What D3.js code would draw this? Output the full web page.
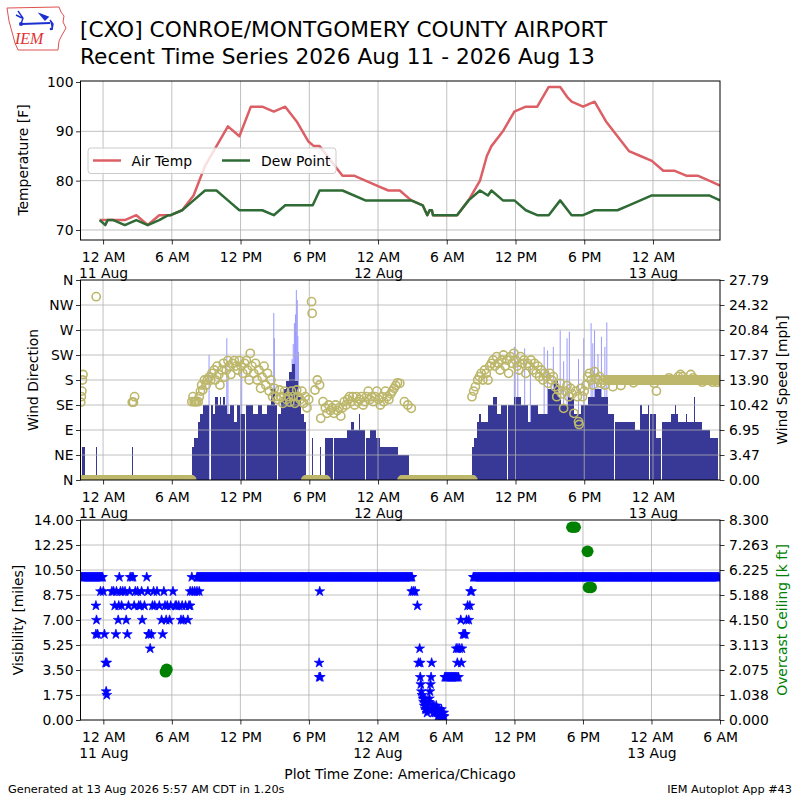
<!DOCTYPE html>
<html>
<head>
<meta charset="utf-8">
<title>CXO Recent Time Series</title>
<style>
  body { margin: 0; background: #fff; }
  svg { font-family: "DejaVu Sans", sans-serif; }
</style>
</head>
<body>
<svg id="svg" width="800" height="800"></svg>
<script src="https://cdn.jsdelivr.net/npm/d3@7/dist/d3.min.js"></script>
<script>
  // all times are hours since 11 Aug 2026 00:00 CDT
  const xTickHours = [0, 6, 12, 18, 24, 30, 36, 42, 48, 54];
  const xTickLabels = ["12 AM\n11 Aug", "6 AM", "12 PM", "6 PM", "12 AM\n12 Aug", "6 AM", "12 PM", "6 PM", "12 AM\n13 Aug", "6 AM"];

  const tempTicks = [70, 80, 90, 100];
  const dirTicks = [0, 45, 90, 135, 180, 225, 270, 315, 360];
  const dirLabels = ["N", "NE", "E", "SE", "S", "SW", "W", "NW", "N"];
  const speedTicks = [0, 3.47, 6.95, 10.42, 13.90, 17.37, 20.84, 24.32, 27.79];
  const visTicks = [0, 1.75, 3.5, 5.25, 7, 8.75, 10.5, 12.25, 14];
  const ceilTicks = [0, 1.038, 2.075, 3.113, 4.150, 5.188, 6.225, 7.263, 8.300];

  // [hour, F]
  const tmpf = [[-0.3,72],[0.4,72],[1.9,72],[2.9,73],[3.9,71],[4.9,73],[5.9,73],[6.9,74],[7.9,77],[8.9,83],
    [9.9,87],[10.9,91],[11.9,89],[12.9,95],[13.9,95],[14.9,94],[15.9,95],[16.9,92],[17.9,88],[18.4,87],
    [18.9,87],[19.9,84],[20.9,81],[21.9,81],[22.9,80],[23.9,79],[24.9,78],[25.9,78],[26.9,76],[27.9,75],
    [28.3,73],[28.5,74],[28.7,74],[28.8,73],[29.9,73],[30.9,73],[31.9,76],[32.9,80],[33.5,85],[33.9,87],
    [34.9,90],[35.9,94],[36.9,95],[37.9,95],[38.9,99],[39.9,99],[40.5,97],[40.9,96],[41.9,95],[42.9,96],
    [43.9,92],[44.9,89],[45.9,86],[46.9,85],[47.9,84],[48.9,82],[49.9,82],[50.9,81],[51.9,81],[52.9,80],[53.85,79]];
  const dwpf = [[-0.3,72],[0.2,71],[0.4,72],[0.9,72],[1.9,71],[2.9,72],[3.9,71],[4.9,72],[5.7,73],[5.9,73],
    [6.9,74],[7.9,76],[8.9,78],[9.9,78],[10.9,76],[11.9,74],[12.9,74],[13.9,74],[14.9,73],[15.9,75],
    [16.9,75],[17.9,75],[18.3,75],[18.9,78],[19.9,78],[20.9,78],[22.9,76],[23.9,76],[24.9,76],[25.9,76],
    [26.9,76],[27.9,75],[28.3,73],[28.5,74],[28.7,74],[28.8,73],[29.9,73],[30.9,73],[31.9,76],[32.9,78],
    [33.6,77],[33.9,78],[34.9,76],[35.9,76],[36.9,74],[37.9,73],[38.9,73],[39.9,76],[40.9,73],[41.9,73],
    [42.9,74],[43.9,74],[44.9,74],[45.9,75],[46.9,76],[47.9,77],[48.9,77],[49.9,77],[50.9,77],[51.9,77],
    [52.9,77],[53.85,76]];

  // sustained wind [start hour, end hour, mph]
  const sknt = [[-2.0,-1.9,4.6],[-1.8,-1.62,4.6],[-0.62,-0.54,4.6],[2.53,2.61,4.6],
    [7.79,7.94,4.6],[7.94,8.32,5.8],[8.32,8.46,8.1],[8.46,8.7,9.2],[8.7,9.28,10.4],[9.3,9.36,8.1],
    [9.38,9.63,10.4],[9.63,9.75,9.2],[9.75,10.0,11.5],[10.02,10.2,10.4],[10.2,10.3,11.5],[10.3,10.5,10.4],
    [10.5,10.6,11.5],[10.62,10.8,10.4],[10.8,11.1,9.2],[11.12,11.4,10.4],[11.4,11.7,8.1],[11.72,11.96,10.4],
    [11.96,12.38,9.2],[12.46,13.1,10.4],[13.1,13.5,9.2],[13.52,13.9,10.4],[13.9,14.3,9.2],[14.32,14.7,10.4],
    [14.7,15.0,12.7],[15.0,15.2,10.4],[15.3,15.5,9.2],[15.5,15.7,11.5],[15.72,16.0,12.7],[16.0,16.25,13.8],
    [16.25,16.45,15.0],[16.45,16.75,16.1],[16.78,17.0,13.8],[17.0,17.3,11.5],[17.3,17.5,9.2],[17.52,17.75,8.1],
    [18.25,18.3,5.8],[18.95,19.0,4.6],
    [19.4,20.1,5.8],[20.15,20.75,5.8],[20.8,21.3,5.8],[21.3,21.6,6.9],[21.62,21.9,8.1],[21.9,22.3,6.9],
    [22.3,22.45,9.2],[22.45,22.9,6.9],[22.92,23.3,5.8],[23.3,23.8,6.9],[23.82,24.2,5.8],[24.2,25.7,4.6],
    [25.7,25.78,6.9],[25.78,26.7,3.5],[27.1,27.15,3.5],
    [32.24,32.4,4.6],[32.4,32.6,5.8],[32.6,32.8,8.1],[32.8,33.0,9.2],[33.0,33.56,8.1],[33.56,34.0,10.4],
    [34.0,34.35,11.5],[34.37,34.75,9.2],[34.75,35.3,10.4],[35.32,35.9,10.4],[35.9,36.5,11.5],[36.5,37.05,10.4],
    [37.05,37.35,8.1],[37.37,37.95,10.4],[37.95,38.8,9.2],[38.8,39.4,12.7],[39.4,39.7,13.8],[39.72,40.0,11.5],
    [40.0,40.56,10.4],[40.58,41.14,11.5],[41.14,41.73,9.2],[41.75,42.3,10.4],[42.3,42.9,11.5],[42.92,43.5,12.7],
    [43.5,44.06,11.5],[44.06,44.64,9.2],[44.66,45.0,8.1],[45.0,45.06,9.2],[45.06,45.9,8.1],[45.95,46.4,8.1],
    [46.4,46.85,6.9],[46.9,47.0,10.4],[47.05,47.6,9.2],[47.6,47.66,10.4],[47.7,48.3,9.2],
    [48.3,48.73,5.8],[48.75,49.6,8.1],[49.6,49.9,9.2],[49.9,49.96,10.4],[50.0,50.2,9.2],[50.22,50.9,8.1],
    [50.9,50.96,9.2],[51.0,51.6,8.1],[51.6,51.7,11.5],[51.7,52.3,8.1],
    [52.3,52.95,6.9],[52.95,53.7,5.8],[53.85,54.0,6.9]];

  // peak gusts [hour, mph]
  const gust = [[9.25,17.4],[10.8,19.7],[10.9,13.9],[12.1,15.2],[14.9,23.2],[14.95,19.7],[16.5,16.8],[16.6,18.9],
    [16.7,21.8],[16.8,23.0],[16.87,26.4],[16.95,25.0],[17.0,20.0],[17.05,17.8],[35.9,18.5],[36.2,18.0],
    [36.8,18.3],[37.3,16.2],[38.5,18.5],[38.8,18.0],[39.3,18.5],[39.9,20.8],[40.2,16.5],[40.5,19.7],
    [40.7,20.6],[41.5,16.8],[41.96,19.7],[42.6,21.8],[42.75,19.0],[42.9,20.8],[43.2,17.5],[43.5,19.9],
    [43.8,18.5],[43.97,21.9]];

  // wind direction [hour, degrees]
  const drct = [[-1.95,140],[-1.9,150],[-1.85,160],[-1.8,180],[-1.75,190],[-0.6,330],[2.55,140],[2.65,140],[2.75,150],
    [7.75,141],[7.85,150],[7.95,141],[8.05,141],[8.15,141],[8.3,141],[8.4,150],
    [8.5,160],[8.6,171],[8.7,162],[8.85,180],[9.0,171],[9.1,180],[9.25,185],[9.4,180],[9.5,192],
    [9.7,198],[9.8,180],[9.95,205],[10.1,190],[10.2,171],[10.35,198],[10.5,210],[10.6,185],[10.75,198],
    [10.9,215],[11.0,205],[11.15,190],[11.3,210],[11.45,215],[11.6,205],[11.75,198],[11.9,215],[12.05,205],
    [12.2,192],[12.35,210],[12.5,215],[12.6,198],[12.75,180],[12.85,228],[13.0,205],[13.15,192],[13.3,210],
    [13.45,180],[13.6,198],[13.75,165],[13.9,185],[14.05,205],[14.2,171],[14.35,192],[14.5,160],[14.65,180],
    [14.8,150],[14.95,165],[15.1,150],[15.25,145],[15.4,162],[15.55,150],[15.7,138],[15.85,160],[16.0,145],
    [16.15,150],[16.3,140],[16.45,160],[16.6,150],[16.75,138],[16.9,162],[17.05,150],[17.2,145],[17.35,160],
    [17.5,138],[17.65,150],[17.8,130],[17.95,145],[18.2,321],[18.25,300],[18.5,162],[18.7,180],[18.9,171],
    [19.0,111],[19.2,141],[19.4,130],[19.55,120],[19.7,135],[19.85,125],[20.0,130],[20.15,120],[20.3,135],
    [20.45,125],[20.6,130],[20.75,115],[20.9,130],[21.05,141],[21.2,135],[21.35,145],[21.5,150],[21.65,141],
    [21.8,150],[21.95,135],[22.1,150],[22.25,141],[22.4,145],[22.55,150],[22.7,135],[22.85,141],[23.0,150],
    [23.15,160],[23.3,145],[23.45,150],[23.6,141],[23.75,150],[23.9,160],[24.05,145],[24.2,135],[24.35,150],
    [24.5,141],[24.65,160],[24.8,150],[24.95,145],[25.1,155],[25.25,160],[25.4,165],[25.55,170],[25.7,175],
    [25.9,174],[26.3,141],[26.6,135],[26.9,129],
    [32.2,150],[32.35,160],[32.5,168],[32.7,180],[32.85,186],[33.0,192],[33.15,180],[33.3,198],[33.45,192],
    [33.6,180],[33.75,205],[33.9,210],[34.05,216],[34.2,205],[34.35,222],[34.5,210],[34.65,198],[34.8,216],
    [34.95,225],[35.1,205],[35.25,216],[35.4,192],[35.55,222],[35.7,210],[35.85,228],[36.0,216],[36.15,205],
    [36.3,198],[36.45,222],[36.6,210],[36.75,216],[36.9,192],[37.05,210],[37.2,205],[37.35,216],[37.5,198],
    [37.65,210],[37.8,192],[37.95,205],[38.1,186],[38.25,198],[38.4,180],[38.55,192],[38.7,186],[38.85,174],
    [39.0,192],[39.15,180],[39.3,186],[39.45,168],[39.6,150],[39.75,162],[39.9,174],[40.05,155],[40.2,129],
    [40.35,160],[40.5,170],[40.65,150],[40.8,165],[40.95,155],[41.1,120],[41.25,160],[41.4,150],[41.5,105],
    [41.55,100],[41.7,165],[41.85,150],[42.0,160],[42.15,171],[42.3,186],[42.45,192],[42.6,180],[42.75,171],
    [42.9,195],[43.05,183],[43.2,180],[43.35,186],[43.5,174],[43.65,180],[43.8,171],
    [44.5,168],[45.2,170],[46.3,175],[48.1,174],[48.3,160],[49.4,184],[50.2,186],[50.4,190],[50.6,186],
    [51.3,190],[51.5,184],[52.3,176],[53.2,176],[53.6,176]];

  // steady direction stretches [start hour, end hour, degrees]; 0 deg = calm
  const dirRuns = [[-1.85, 7.75, 0], [17.7, 19.5, 0], [26.1, 32.3, 0], [44.0, 53.9, 180]];

  // visibility [hour, miles]; steady stretches as [start, end, miles]
  const visRuns = [[-1.9, 0.0, 10], [8.2, 27.1, 10], [29.9, 31.0, 3], [32.4, 53.98, 10]];
  const vsby = [[-0.65,8],[-0.6,7],[-0.65,6],[-0.5,6],[-0.25,9],[0.0,9],[0.1,6],[0.2,4],[0.3,4],[0.25,2],[0.3,1.75],
    [0.75,9],[0.9,9],[1.0,8],[1.1,6],[1.15,9],[1.3,7],[1.35,8],[1.4,10],[1.5,9],[1.6,8],[1.7,9],[1.9,9],[2.0,7],
    [2.1,6],[2.2,8],[2.3,9],[2.35,10],[2.5,10],[2.6,10],[2.7,8],[2.8,9],[3.0,9],[3.1,8],[3.25,8],[3.35,9],[3.4,7],
    [3.6,8],[3.8,10],[3.9,9],[3.95,6],[4.0,6],[4.1,5],[4.2,6],[4.3,8],[4.4,9],[4.5,8],[4.7,9],[4.9,8],[5.1,7],
    [5.2,6],[5.3,9],[5.4,8],[5.5,7],[5.6,8],[5.8,7],[5.9,8],[6.1,9],[6.3,8],[6.4,8],[6.6,8],[6.8,7],[6.9,8],
    [7.0,7],[7.2,8],[7.4,7],[7.5,8],[7.6,8],[7.6,9],[7.75,10],[7.8,9],[8.0,9],[8.2,9],[8.4,9],
    [18.95,9],[18.9,4],[18.9,3],[19.0,3],
    [27.0,9],[27.15,9],[27.3,9],[27.5,8],[27.7,5],[27.6,4],[27.75,4],[27.75,3],[27.8,2.5],[27.85,2],[27.9,1.75],
    [28.0,1.5],[28.05,1.25],[28.1,1],[28.15,1.5],[28.2,0.75],[28.25,1],[28.3,0.75],[28.35,0.5],[28.4,1],
    [28.45,0.75],[28.5,1.25],[28.55,1.5],[28.6,2],[28.65,2.5],[28.7,3],[28.75,4],[28.8,1],[28.85,0.75],
    [28.9,0.5],[28.95,1],[29.0,0.75],[29.05,0.5],[29.1,0.75],[29.15,1],[29.2,0.5],[29.25,0.75],[29.3,0.25],
    [29.35,0.5],[29.4,0.75],[29.45,0.5],[29.5,0.25],[29.55,0.5],[29.6,0.75],[29.65,0.25],[29.7,0.5],
    [29.75,0.25],[29.8,0.5],[29.85,0.25],
    [31.0,4],[31.1,3],[30.9,5],[31.05,5],[31.2,5],[31.35,4],[31.4,5],[31.3,7],[31.5,6],[31.6,6],[31.7,6],
    [31.8,7],[31.9,8],[32.0,7],[32.1,8],[32.15,9],[32.25,9]];

  // overcast ceiling [hour, thousand ft]
  const ceiling = [[5.45,2.0],[5.55,2.1],[41.05,8.0],[41.3,8.0],[42.4,7.0],[42.5,5.5],[42.7,5.5]];

  const obsStep = 5 / 60; // one report every 5 minutes

  function expand(runs) {
    const out = [];
    runs.forEach(r => {
      for (let t = r[0]; t <= r[1] + 1e-9; t += obsStep) out.push([t, r[2]]);
    });
    return out;
  }

  const svg = d3.select("#svg");
  const L = 80.5, R = 720;
  const FONT = "DejaVu Sans";
  const FS = 13.9;

  const xTop = d3.scaleLinear().domain([-1.97, 53.85]).range([L, R]);
  const xBot = d3.scaleLinear().domain([-2, 54]).range([L, R]);

  const yTemp = d3.scaleLinear().domain([67.97, 100.2]).range([240, 81]);
  const yDir = d3.scaleLinear().domain([0, 360]).range([480, 280]);
  const ySpd = d3.scaleLinear().domain([0, 27.79]).range([480, 280]);
  const yVis = d3.scaleLinear().domain([0, 14]).range([720, 520]);
  const yCeil = d3.scaleLinear().domain([0, 8.3]).range([720, 520]);

  const defs = svg.append("defs");
  function clip(id, top, bottom) {
    defs.append("clipPath").attr("id", id).append("rect")
      .attr("x", L).attr("y", top).attr("width", R - L).attr("height", bottom - top);
    return `url(#${id})`;
  }

  function grid(x, xt, y, yt, top, bottom) {
    const g = svg.append("g").attr("stroke", "#b0b0b0").attr("stroke-width", 0.8);
    g.selectAll("line.v").data(xt.filter(d => x(d) > L + 1 && x(d) < R - 1)).join("line")
      .attr("x1", d => x(d)).attr("x2", d => x(d)).attr("y1", top).attr("y2", bottom);
    g.selectAll("line.h").data(yt.filter(d => y(d) > top + 1 && y(d) < bottom - 1)).join("line")
      .attr("x1", L).attr("x2", R).attr("y1", d => y(d)).attr("y2", d => y(d));
    return g;
  }

  function frame(top, bottom) {
    svg.append("rect").attr("x", L).attr("y", top).attr("width", R - L).attr("height", bottom - top)
      .attr("fill", "none").attr("stroke", "#000").attr("stroke-width", 1);
  }

  function styleAxis(g) {
    g.attr("font-family", FONT).attr("font-size", FS);
    g.select(".domain").remove();
    g.selectAll(".tick line").attr("stroke", "#000").attr("stroke-width", 0.8);
    g.selectAll(".tick text").attr("fill", "#000");
    return g;
  }

  function xAxis(x, ticks, bottom) {
    const g = svg.append("g").attr("transform", `translate(0,${bottom})`)
      .call(d3.axisBottom(x).tickValues(ticks).tickSize(4.5)
        .tickFormat(d => xTickLabels[xTickHours.indexOf(d)]));
    styleAxis(g);
    g.selectAll(".tick text").each(function () {
      const t = d3.select(this);
      const lines = t.text().split("\n");
      t.text(null).attr("dy", null).attr("y", null);
      lines.forEach((s, i) => t.append("tspan").attr("x", 0).attr("y", 21.8 + i * 16.5).text(s));
    });
  }

  function yLabel(text, x, cy, color) {
    svg.append("text").attr("transform", `translate(${x},${cy}) rotate(-90)`)
      .attr("text-anchor", "middle").attr("dominant-baseline", "central")
      .attr("font-family", FONT).attr("font-size", FS).attr("fill", color || "#000").text(text);
  }

  // ---------- title and logo ----------
  const logo = svg.append("g");
  logo.append("path")
    .attr("d", "M7,8 L59,7 L61,12 L64,16 L63,22 L66,28 L62,35 L59,41 L58,50 L18,50 L15,43 L12,32 L9,21 Z")
    .attr("fill", "none").attr("stroke", "#e05050").attr("stroke-width", 1);
  logo.append("line").attr("x1", 22).attr("y1", 24).attr("x2", 50).attr("y2", 23)
    .attr("stroke", "#1c2fd0").attr("stroke-width", 2.2);
  logo.append("path").attr("d", "M18,11 L23,18 L21,24 M16,15 L22,18").attr("fill", "none")
    .attr("stroke", "#1c2fd0").attr("stroke-width", 1.4);
  logo.append("path").attr("d", "M40,14 L48,17 L45,20 Z M50,20 L53,24 L52,30").attr("fill", "#1c2fd0")
    .attr("stroke", "#1c2fd0").attr("stroke-width", 1.4);
  logo.append("circle").attr("cx", 21).attr("cy", 24).attr("r", 2).attr("fill", "#1c2fd0");
  logo.append("circle").attr("cx", 51).attr("cy", 29).attr("r", 1.3).attr("fill", "#1c2fd0");
  logo.append("text").attr("x", 15).attr("y", 44).attr("font-family", "Liberation Serif")
    .attr("font-style", "italic").attr("font-size", 16).attr("fill", "#e03030").text("IEM");

  svg.append("text").attr("x", 80).attr("y", 37).attr("font-family", FONT).attr("font-size", 21.7)
    .text("[CXO] CONROE/MONTGOMERY COUNTY AIRPORT");
  svg.append("text").attr("x", 80).attr("y", 64).attr("font-family", FONT).attr("font-size", 21.7)
    .text("Recent Time Series 2026 Aug 11 - 2026 Aug 13");

  // ---------- panel 1: temperature ----------
  grid(xTop, xTickHours, yTemp, tempTicks, 81, 240);
  const g1 = svg.append("g").attr("clip-path", clip("c1", 81, 240));
  const tline = d3.line().x(d => xTop(d[0])).y(d => yTemp(d[1]));
  g1.append("path").datum(tmpf).attr("d", tline).attr("fill", "none")
    .attr("stroke", "#dc5f66").attr("stroke-width", 2.5).attr("stroke-linejoin", "round");
  g1.append("path").datum(dwpf).attr("d", tline).attr("fill", "none")
    .attr("stroke", "#2f6b35").attr("stroke-width", 2.5).attr("stroke-linejoin", "round");
  frame(81, 240);
  styleAxis(svg.append("g").attr("transform", `translate(${L},0)`)
    .call(d3.axisLeft(yTemp).tickValues(tempTicks).tickSize(4.5).tickPadding(2.5)));
  xAxis(xTop, xTickHours.slice(0, 9), 240);
  yLabel("Temperature [F]", 22.5, 160);

  const leg = svg.append("g").attr("font-family", FONT).attr("font-size", FS);
  leg.append("rect").attr("x", 88).attr("y", 148).attr("width", 248).attr("height", 25.5).attr("rx", 3)
    .attr("fill", "#fff").attr("fill-opacity", 0.8).attr("stroke", "#cccccc");
  leg.append("line").attr("x1", 93).attr("x2", 121).attr("y1", 160.5).attr("y2", 160.5)
    .attr("stroke", "#dc5f66").attr("stroke-width", 2.5);
  leg.append("text").attr("x", 131.5).attr("y", 165.5).text("Air Temp");
  leg.append("line").attr("x1", 222).attr("x2", 250).attr("y1", 160.5).attr("y2", 160.5)
    .attr("stroke", "#2f6b35").attr("stroke-width", 2.5);
  leg.append("text").attr("x", 261).attr("y", 165.5).text("Dew Point");

  // ---------- panel 2: wind ----------
  const g2 = svg.append("g").attr("clip-path", clip("c2", 280, 480));
  g2.selectAll("rect.gust").data(gust).join("rect").attr("class", "gust")
    .attr("x", d => xTop(d[0]) - 0.5).attr("width", 1)
    .attr("y", d => ySpd(d[1])).attr("height", d => ySpd(0) - ySpd(d[1]))
    .attr("fill", "#9999ff");
  g2.selectAll("rect.sknt").data(sknt).join("rect").attr("class", "sknt")
    .attr("x", d => xTop(d[0])).attr("width", d => Math.max(0.8, xTop(d[1]) - xTop(d[0])))
    .attr("y", d => ySpd(d[2])).attr("height", d => ySpd(0) - ySpd(d[2]))
    .attr("fill", "#383896").attr("shape-rendering", "crispEdges");
  grid(xTop, xTickHours, yDir, dirTicks, 280, 480);
  const g2b = svg.append("g").attr("clip-path", "url(#c2)");
  g2b.selectAll("circle").data(expand(dirRuns).concat(drct)).join("circle")
    .attr("cx", d => xTop(d[0])).attr("cy", d => yDir(d[1])).attr("r", 4.1)
    .attr("fill", "none").attr("stroke", "#bdb76b").attr("stroke-width", 1.6);
  frame(280, 480);
  styleAxis(svg.append("g").attr("transform", `translate(${L},0)`)
    .call(d3.axisLeft(yDir).tickValues(dirTicks).tickSize(4.5).tickPadding(2.5)
      .tickFormat((d, i) => dirLabels[i])));
  styleAxis(svg.append("g").attr("transform", `translate(${R},0)`)
    .call(d3.axisRight(ySpd).tickValues(speedTicks).tickSize(4.5).tickPadding(4.5)
      .tickFormat(d3.format(".2f"))));
  xAxis(xTop, xTickHours.slice(0, 9), 480);
  yLabel("Wind Direction", 33, 380);
  yLabel("Wind Speed [mph]", 782, 380);

  // ---------- panel 3: visibility / ceiling ----------
  grid(xBot, xTickHours, yVis, visTicks, 520, 720);
  const g3 = svg.append("g").attr("clip-path", clip("c3", 520, 720));
  const star = d3.symbol(d3.symbolStar, 30);
  g3.selectAll("path.vis").data(expand(visRuns).concat(vsby)).join("path").attr("class", "vis")
    .attr("transform", d => `translate(${xBot(d[0])},${yVis(d[1])})`)
    .attr("d", star).attr("fill", "#0000ff").attr("stroke", "#0000ff").attr("stroke-width", 0.7)
    .attr("stroke-linejoin", "round");
  g3.selectAll("ellipse.ceil").data(ceiling).join("ellipse").attr("class", "ceil")
    .attr("cx", d => xBot(d[0])).attr("cy", d => yCeil(d[1])).attr("rx", 6).attr("ry", 5.8)
    .attr("fill", "#008000");
  frame(520, 720);
  styleAxis(svg.append("g").attr("transform", `translate(${L},0)`)
    .call(d3.axisLeft(yVis).tickValues(visTicks).tickSize(4.5).tickPadding(2.5)
      .tickFormat(d3.format(".2f"))));
  styleAxis(svg.append("g").attr("transform", `translate(${R},0)`)
    .call(d3.axisRight(yCeil).tickValues(ceilTicks).tickSize(4.5).tickPadding(4.5)
      .tickFormat(d3.format(".3f"))));
  xAxis(xBot, xTickHours, 720);
  yLabel("Visibility [miles]", 17.5, 620);
  yLabel("Overcast Ceiling [k ft]", 782, 620, "#008000");

  // ---------- footer ----------
  svg.append("text").attr("x", 400).attr("y", 779).attr("text-anchor", "middle")
    .attr("font-family", FONT).attr("font-size", FS).text("Plot Time Zone: America/Chicago");
  svg.append("text").attr("x", 8).attr("y", 793).attr("font-family", FONT).attr("font-size", 11.3)
    .text("Generated at 13 Aug 2026 5:57 AM CDT in 1.20s");
  svg.append("text").attr("x", 792).attr("y", 793).attr("text-anchor", "end")
    .attr("font-family", FONT).attr("font-size", 11.3).text("IEM Autoplot App #43");
</script>
</body>
</html>
